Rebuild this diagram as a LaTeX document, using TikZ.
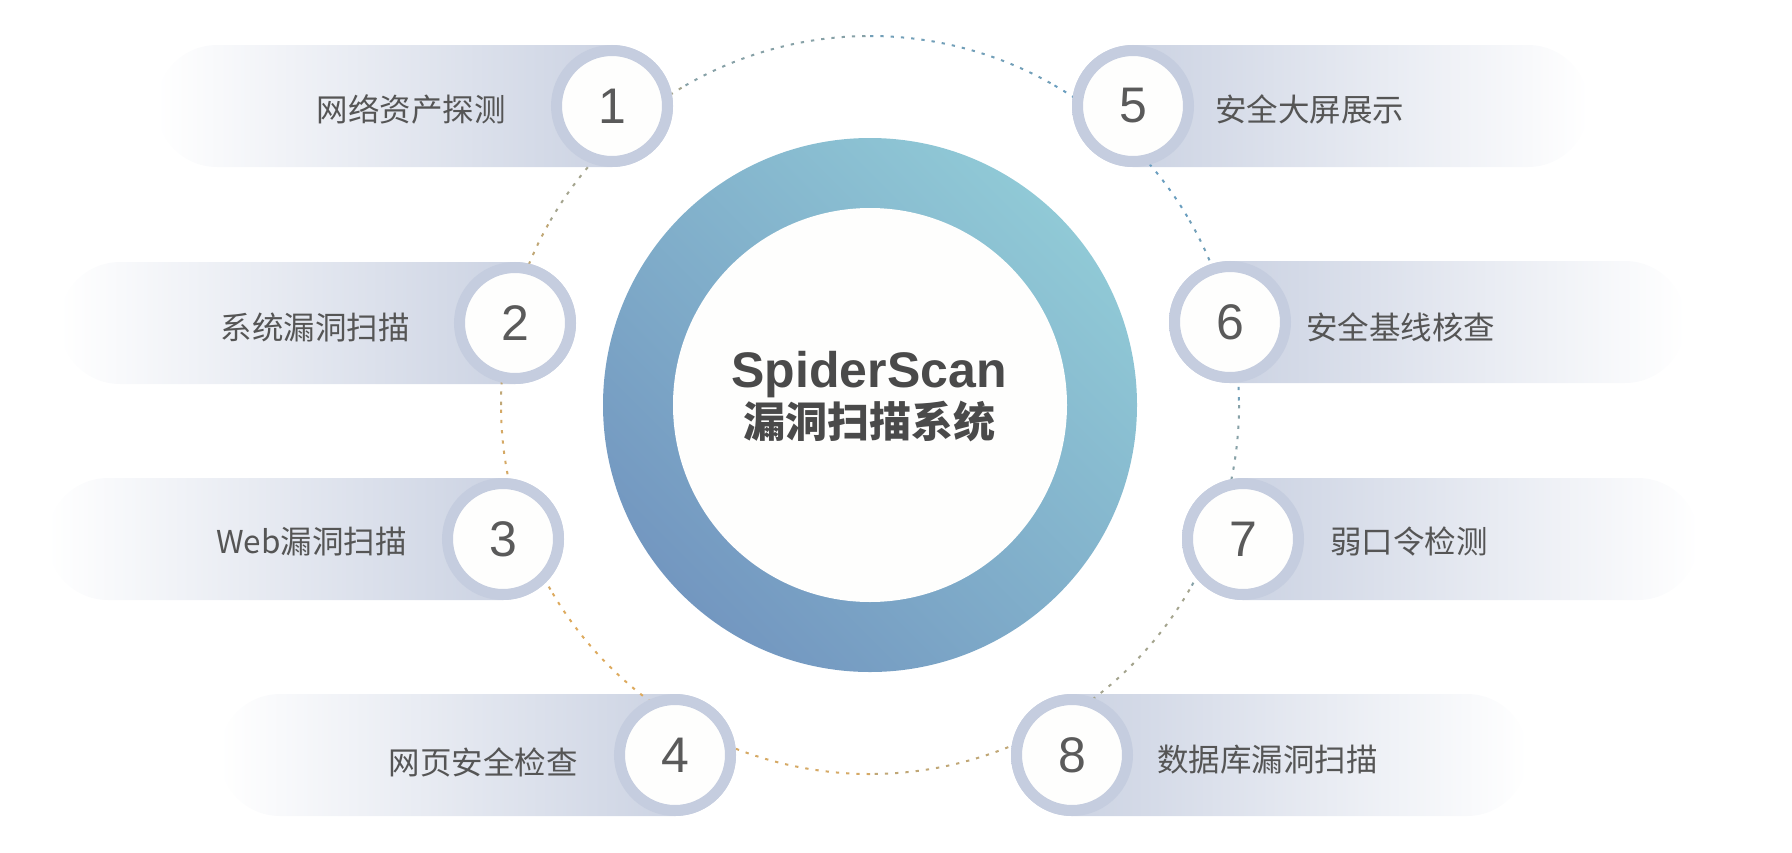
\documentclass[tikz,border=0pt]{standalone}
\usepackage{fontspec}
\setmainfont{Liberation Sans}
\newfontfamily\cjk{Noto Sans CJK SC}

\definecolor{pillc}{HTML}{C5CDDF}
\definecolor{corec}{HTML}{FEFEFD}
\definecolor{ringa}{HTML}{7397C0}
\definecolor{ringb}{HTML}{90C9D6}
\definecolor{doto}{HTML}{DDAA5E}
\definecolor{dotb}{HTML}{6A9EBF}
\definecolor{numc}{HTML}{5A5A5A}
\definecolor{lblc}{HTML}{555555}
\definecolor{titlec}{HTML}{4A4A4A}

\tikzset{
  pill/.style={rounded corners=60.9pt},
  lpill/.style={pill, left color=white, right color=pillc},
  rpill/.style={pill, left color=pillc, right color=white},
  badge/.style={circle, fill=corec, draw=pillc, line width=11pt, minimum size=111pt,
    inner sep=0pt, text=numc, font=\fontsize{50}{50}\selectfont},
  lbl/.style={inner sep=0pt, text=lblc, font=\cjk\fontsize{31.5}{31.5}\selectfont},
  dotarc/.style={line width=2pt, dash pattern=on 3.3pt off 7pt},
}

\begin{document}
\begin{tikzpicture}[x=1pt,y=-1pt]
        \useasboundingbox (0,0) rectangle (1792,852);
        \coordinate (c) at (870,405);

        % banners
        \shade[lpill] (156,45) rectangle (673,167);
        \shade[lpill] (59,262) rectangle (576,384);
        \shade[lpill] (47,478) rectangle (564,600);
        \shade[lpill] (219,694) rectangle (736,816);
        \shade[rpill] (1072,45) rectangle (1589,167);
        \shade[rpill] (1169,261) rectangle (1686,383);
        \shade[rpill] (1182,478) rectangle (1699,600);
        \shade[rpill] (1011,694) rectangle (1528,816);

        % dotted orbit
        \draw[dotarc, draw=dotb!75!doto] (c) ++(0:369) arc[start angle=0, end angle=30, radius=369];
        \draw[dotarc, draw=dotb!50!doto] (c) ++(30:369) arc[start angle=30, end angle=60, radius=369];
        \draw[dotarc, draw=dotb!25!doto] (c) ++(60:369) arc[start angle=60, end angle=90, radius=369];
        \draw[dotarc, draw=dotb!7!doto] (c) ++(90:369) arc[start angle=90, end angle=120, radius=369];
        \draw[dotarc, draw=doto] (c) ++(120:369) arc[start angle=120, end angle=150, radius=369];
        \draw[dotarc, draw=dotb!7!doto] (c) ++(150:369) arc[start angle=150, end angle=180, radius=369];
        \draw[dotarc, draw=dotb!25!doto] (c) ++(180:369) arc[start angle=180, end angle=210, radius=369];
        \draw[dotarc, draw=dotb!50!doto] (c) ++(210:369) arc[start angle=210, end angle=240, radius=369];
        \draw[dotarc, draw=dotb!75!doto] (c) ++(240:369) arc[start angle=240, end angle=270, radius=369];
        \draw[dotarc, draw=dotb!93!doto] (c) ++(270:369) arc[start angle=270, end angle=300, radius=369];
        \draw[dotarc, draw=dotb] (c) ++(300:369) arc[start angle=300, end angle=330, radius=369];
        \draw[dotarc, draw=dotb!93!doto] (c) ++(330:369) arc[start angle=330, end angle=360, radius=369];

        % hub
        \node[circle, minimum size=534pt, inner sep=0pt, top color=ringb, bottom color=ringa,
          shading angle=-45] (hub) at (c) {};
        \node[circle, fill=corec, minimum size=394pt, inner sep=0pt] (core) at (c) {};
        \node[anchor=base, text=titlec, font=\bfseries\fontsize{50}{50}\selectfont] (title) at (869,387) {SpiderScan};
        \node[text=titlec, font=\cjk\bfseries\fontsize{42}{42}\selectfont] (subtitle) at (869,421) {漏洞扫描系统};

        \node[badge] (b1) at (612,106) {1};
        \node[badge] (b2) at (515,323) {2};
        \node[badge] (b3) at (503,539) {3};
        \node[badge] (b4) at (675,755) {4};
        \node[badge] (b5) at (1133,106) {5};
        \node[badge] (b6) at (1230,322) {6};
        \node[badge] (b7) at (1243,539) {7};
        \node[badge] (b8) at (1072,755) {8};

        \node[lbl, anchor=east] (t1) at (506,109) {网络资产探测};
        \node[lbl, anchor=east] (t2) at (410,327) {系统漏洞扫描};
        \node[lbl, anchor=east] (t3) at (407,542) {Web漏洞扫描};
        \node[lbl, anchor=east] (t4) at (578,762) {网页安全检查};
        \node[lbl, anchor=west] (t5) at (1215,109) {安全大屏展示};
        \node[lbl, anchor=west] (t6) at (1306,327) {安全基线核查};
        \node[lbl, anchor=west] (t7) at (1330,541) {弱口令检测};
        \node[lbl, anchor=west] (t8) at (1157,760) {数据库漏洞扫描};

    \end{tikzpicture}
\end{document}
